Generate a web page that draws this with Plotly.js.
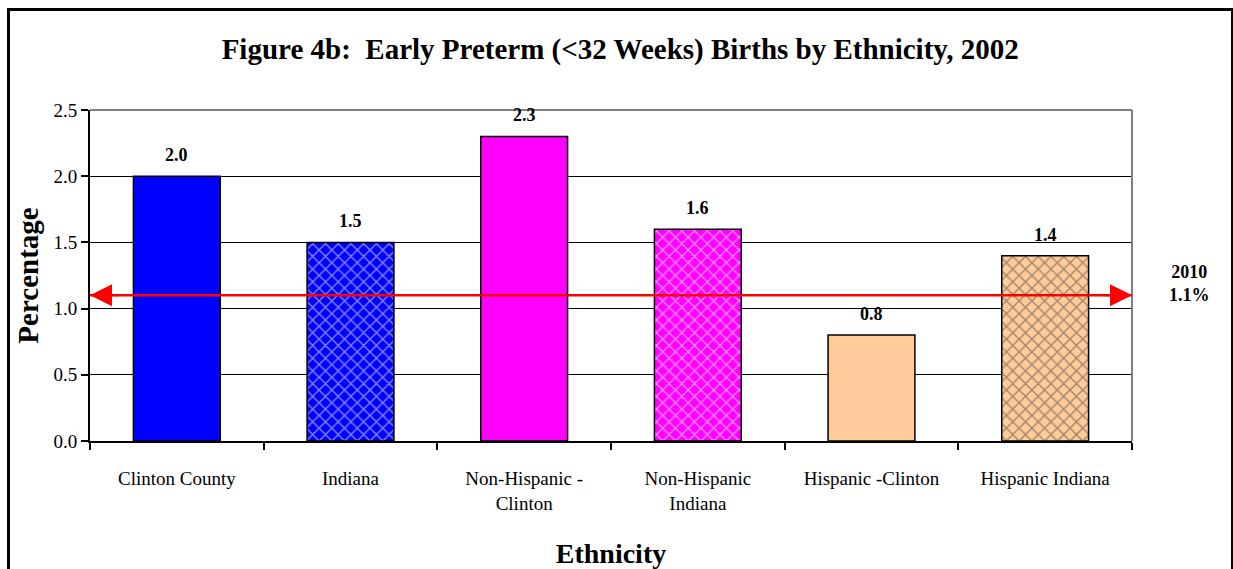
<!DOCTYPE html>
<html><head><meta charset="utf-8">
<script src="https://cdn.plot.ly/plotly-3.0.1.min.js"></script>
<style>
html,body{margin:0;padding:0;background:#fff;}
#wrap{position:relative;width:1233px;height:569px;overflow:hidden;}
#chart{width:1233px;height:569px;}
#frame{position:absolute;left:7px;top:8px;width:1221px;height:600px;border:3px solid #000;pointer-events:none;}
</style></head>
<body><div id="wrap"><div id="chart"></div><div id="frame"></div></div>
<script>
const categories = ["Clinton County", "Indiana", "Non-Hispanic - Clinton", "Non-Hispanic Indiana", "Hispanic -Clinton", "Hispanic Indiana"];
const tickLabels = ["Clinton County", "Indiana", "Non-Hispanic -<br>Clinton", "Non-Hispanic<br>Indiana", "Hispanic -Clinton", "Hispanic Indiana"];
const values = [2.0, 1.5, 2.3, 1.6, 0.8, 1.4];
const barColors = ["#0000FF", "#0000FF", "#FF00FF", "#FF00FF", "#FFCC99", "#FFCC99"];
const patternShapes = ["", "x", "", "x", "", "x"];
const patternFg = ["#FFFFFF", "#D8D8FF", "#FFFFFF", "#FFD0FF", "#FFFFFF", "#3A2A1A"];
const target = 1.1;
const targetLabel = "2010<br>1.1%";

const serif = "'Liberation Serif', 'Times New Roman', Times, serif";

const trace = {
  type: "bar",
  x: categories,
  y: values,
  marker: {
    color: barColors,
    line: {color: "#000", width: 1.5},
    pattern: {shape: patternShapes, fgcolor: patternFg, bgcolor: barColors, size: 9, solidity: 0.3, fillmode: "overlay"}
  },
  hoverinfo: "skip"
};

const annotations = categories.map((c, i) => ({
  x: c, y: values[i], xref: "x", yref: "y", text: "<b>" + values[i].toFixed(1) + "</b>",
  showarrow: false, yanchor: "bottom", yshift: 9,
  font: {family: serif, size: 18, color: "#000"}
}));
annotations.push({x: 0, y: target, xref: "paper", yref: "y", ax: 30, ay: 0, axref: "pixel", ayref: "pixel",
  text: "", showarrow: true, arrowhead: 2, arrowsize: 2.2, arrowwidth: 2, arrowcolor: "#FF0000"});
annotations.push({x: 1, y: target, xref: "paper", yref: "y", ax: -30, ay: 0, axref: "pixel", ayref: "pixel",
  text: "", showarrow: true, arrowhead: 2, arrowsize: 2.2, arrowwidth: 2, arrowcolor: "#FF0000"});
annotations.push({x: 1.055, y: target, xref: "paper", yref: "y", text: "<b>" + targetLabel + "</b>",
  showarrow: false, xanchor: "center", yanchor: "middle", yshift: 12, font: {family: serif, size: 18, color: "#000"}});

const layout = {
  width: 1233, height: 569,
  margin: {l: 90, r: 101, t: 110, b: 128},
  paper_bgcolor: "#fff", plot_bgcolor: "#fff",
  font: {family: serif, color: "#000", size: 19},
  title: {text: "<b>Figure 4b:&nbsp; Early Preterm (&lt;32 Weeks) Births by Ethnicity, 2002</b>",
    font: {family: serif, size: 29, color: "#000"}, x: 0.503, xanchor: "center", y: 0.915, yanchor: "middle"},
  bargap: 0.5,
  showlegend: false,
  xaxis: {
    tickmode: "array", tickvals: categories, ticktext: tickLabels,
    showline: true, linecolor: "#000", linewidth: 2,
    ticks: "outside", tickson: "boundaries", ticklen: 7, tickwidth: 2, tickcolor: "#000",
    ticklabelstandoff: 19,
    tickfont: {family: serif, size: 19, color: "#000"},
    showgrid: false, fixedrange: true,
    title: {text: "<b>Ethnicity</b>", font: {family: serif, size: 28, color: "#000"}, standoff: 32}
  },
  yaxis: {
    range: [0, 2.5], tickvals: [0, 0.5, 1.0, 1.5, 2.0, 2.5], tickformat: ".1f",
    showline: true, linecolor: "#000", linewidth: 2,
    ticks: "outside", ticklen: 7, tickwidth: 2, tickcolor: "#000",
    tickfont: {family: serif, size: 19, color: "#000"},
    showgrid: true, gridcolor: "#000", gridwidth: 1, zeroline: false, fixedrange: true,
    title: {text: "<b>Percentage</b>", font: {family: serif, size: 29, color: "#000"}, standoff: 6}
  },
  shapes: [
    {type: "line", xref: "paper", yref: "paper", x0: 0, x1: 1, y0: 1, y1: 1, line: {color: "#808080", width: 2}, layer: "above"},
    {type: "line", xref: "paper", yref: "paper", x0: 1, x1: 1, y0: 0, y1: 1, line: {color: "#808080", width: 2}, layer: "above"},
    {type: "line", xref: "paper", yref: "y", x0: 0, x1: 1, y0: target, y1: target, line: {color: "#FF0000", width: 2.5}, layer: "above"}
  ],
  annotations: annotations
};

Plotly.newPlot("chart", [trace], layout, {staticPlot: true, displayModeBar: false});
</script></body></html>
